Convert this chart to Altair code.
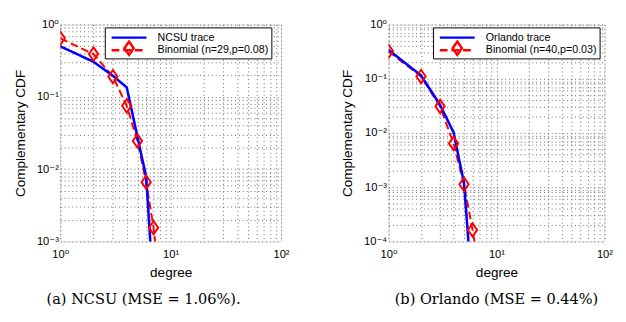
import altair as alt
import pandas as pd

# ---------------- data ----------------
# (a) NCSU
ncsu_trace_deg = [1, 2, 3, 4, 5, 6, 7]
ncsu_trace_ccdf = [0.50, 0.305, 0.195, 0.135, 0.028, 0.0078, 0.0002]
ncsu_binom_deg = [1, 2, 3, 4, 5, 6, 7, 8]
ncsu_binom_ccdf = [0.645, 0.39, 0.19, 0.075, 0.0245, 0.0066, 0.00155, 0.00025]

# (b) Orlando
orl_trace_deg = [1, 2, 3, 4, 5, 6]
orl_trace_ccdf = [0.34, 0.115, 0.033, 0.0103, 0.0012, 0.00001]
orl_binom_deg = [1, 2, 3, 4, 5, 6, 7]
orl_binom_ccdf = [0.32, 0.11, 0.031, 0.0064, 0.00113, 0.000163, 0.000025]

x_ticks = [m * 10 ** e for e in range(0, 2) for m in range(1, 10)] + [100]

SANS = "Liberation Sans, Arial, DejaVu Sans"
SERIF = "DejaVu Serif, Liberation Serif"
BLUE = "#0000ff"
RED = "#ff0000"
LINE_PATH = "M-3,0L3,0"
DIAMOND = "M0,-1.15L0.8,0L0,1.15L-0.8,0Z"

E = "round(log(datum.value)/LN10)"
POW_EXPR = (
    f"(abs(log(datum.value)/LN10 - {E}) < 0.01) ? ('10' + ("
    f"{E}==0?'⁰':{E}==1?'¹':{E}==2?'²':{E}==-1?'⁻¹':{E}==-2?'⁻²':{E}==-3?'⁻³':'⁻⁴')) : ''"
)


def panel(trace_name, binom_name, tdeg, tval, bdeg, bval, ymin_exp, width, caption, cap_dx):
    df_t = pd.DataFrame({"degree": tdeg, "ccdf": tval, "series": trace_name})
    df_b = pd.DataFrame({"degree": bdeg, "ccdf": bval, "series": binom_name,
                         "m": binom_name + " "})
    domain = [trace_name, binom_name]
    mdomain = [trace_name + " ", binom_name + " "]
    y_ticks = [m * 10 ** e for e in range(ymin_exp, 0) for m in range(1, 10)] + [1]

    xs = alt.X("degree:Q", scale=alt.Scale(type="log", domain=[1, 100], nice=False),
               axis=alt.Axis(values=x_ticks, labelExpr=POW_EXPR, grid=True, gridDash=[1, 3],
                             gridColor="#666", ticks=False, domain=False, labelFont=SANS,
                             labelFontSize=11.5, labelColor="black", labelPadding=8,
                             labelOverlap=False, labelFlush=False, title="degree",
                             titleFont=SANS, titleFontSize=14, titleFontWeight="normal",
                             titleColor="black", titlePadding=6))
    ys = alt.Y("ccdf:Q", scale=alt.Scale(type="log", domain=[10 ** ymin_exp, 1], nice=False),
               axis=alt.Axis(values=y_ticks, labelExpr=POW_EXPR, grid=True, gridDash=[1, 3],
                             gridColor="#666", ticks=False, domain=False, labelFont=SANS,
                             labelFontSize=11.5, labelColor="black", labelPadding=2,
                             labelOverlap=False, labelFlush=False, title="Complementary CDF",
                             titleFont=SANS, titleFontSize=14, titleFontWeight="normal",
                             titleColor="black", titlePadding=9))

    leg_a = alt.Legend(orient="none", legendX=46, legendY=3, direction="vertical", title=None,
                       symbolType=LINE_PATH, symbolSize=144, symbolStrokeWidth=2.5,
                       symbolOffset=14.5, labelOffset=22, labelFont=SANS, labelFontSize=11,
                       labelColor="black", labelLimit=300, padding=3, rowPadding=0,
                       strokeColor="black", fillColor="white", zindex=1)
    color = alt.Color("series:N", scale=alt.Scale(domain=domain, range=[BLUE, RED]), legend=leg_a)
    dash = alt.StrokeDash("series:N", scale=alt.Scale(domain=domain, range=[[1, 0], [8, 4]]),
                          legend=leg_a)

    line_t = alt.Chart(df_t).mark_line(strokeWidth=2.6, clip=True).encode(
        x=xs, y=ys, color=color, strokeDash=dash)
    line_b = alt.Chart(df_b).mark_line(strokeWidth=2, clip=True).encode(
        x=xs, y=ys, color=color, strokeDash=dash)

    leg_b = alt.Legend(orient="none", legendX=46, legendY=-4, direction="vertical", title=None,
                       symbolSize=144, symbolStrokeWidth=2.5, symbolOffset=14.5,
                       symbolStrokeColor=RED, symbolFillColor="transparent",
                       labelExpr="''", labelFontSize=11, padding=3, rowPadding=0, zindex=2)
    pts = alt.Chart(df_b).mark_point(filled=False, color=RED, strokeWidth=2, size=144,
                                     opacity=1, clip=True).encode(
        x=xs, y=ys,
        shape=alt.Shape("m:N", scale=alt.Scale(domain=mdomain, range=["M0,0", DIAMOND]),
                        legend=leg_b))

    return alt.layer(line_b, line_t, pts).properties(
        width=width, height=224,
        title=alt.TitleParams(caption, orient="bottom", font=SERIF, fontSize=15,
                              fontWeight="normal", color="black", anchor="middle",
                              dx=cap_dx, offset=13))


left = panel("NCSU trace", "Binomial (n=29,p=0.08)", ncsu_trace_deg, ncsu_trace_ccdf,
             ncsu_binom_deg, ncsu_binom_ccdf, -3, 228, "(a) NCSU (MSE = 1.06%).", -28)
right = panel("Orlando trace", "Binomial (n=40,p=0.03)", orl_trace_deg, orl_trace_ccdf,
              orl_binom_deg, orl_binom_ccdf, -4, 223, "(b) Orlando (MSE = 0.44%)", 0)

chart = alt.hconcat(left, right, spacing=52).resolve_scale(
    color="independent", strokeDash="independent", shape="independent", x="independent",
    y="independent").configure_view(stroke="black", strokeWidth=1).configure(background="white")

chart.save("out.html", embed_options={"renderer": "svg", "actions": False})
